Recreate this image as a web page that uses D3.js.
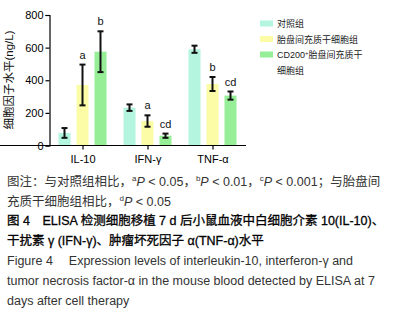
<!DOCTYPE html>
<html>
<head>
<meta charset="utf-8">
<script src="https://cdn.jsdelivr.net/npm/d3@7"></script>
<style>
body { margin: 0; background: #fff; }
svg { display: block; font-family: "Liberation Sans", Arial, "Noto Sans CJK SC", sans-serif; }
.axis path, .axis line { stroke: #000; stroke-width: 1.2px; }
.axis text { font-size: 11px; fill: #000; }
</style>
</head>
<body>
<div id="chart"></div>
<script>
const categories = ["IL-10", "IFN-γ", "TNF-α"]
const groups = ["对照组", "胎盘间充质干细胞组", "CD200⁺胎盘间充质干细胞组"]
const means = [
    [77, 232, 590],
    [371, 150, 377],
    [575, 60, 306]
]
const errors = [
    [30, 20, 22],
    [125, 35, 43],
    [125, 13, 25]
]
const marks = [
    ["", "", ""],
    ["a", "a", "b"],
    ["b", "cd", "cd"]
]
const yTicks = [0, 200, 400, 600, 800]
const colors = ["#b3f5de", "#fcfca6", "#96ef96"]

const width = 403, height = 311
const svg = d3.select("#chart").append("svg")
    .attr("width", width)
    .attr("height", height)

const yScale = d3.scaleLinear().domain([0, 800]).range([145.5, 15])
const xScale = d3.scaleBand().domain(categories).range([50.5, 245.5]).paddingInner(0).paddingOuter(0)
const xInner = d3.scaleBand().domain(d3.range(groups.length)).range([8, 56]).paddingInner(0.333)

svg.append("g")
    .attr("class", "axis")
    .attr("transform", "translate(49.5,0)")
    .call(d3.axisLeft(yScale).tickValues(yTicks).tickSize(4).tickPadding(2))

groups.forEach((g, gi) => {
    categories.forEach((c, ci) => {
        const x0 = xScale(c) + xInner(gi)
        const bw = xInner.bandwidth()
        const v = means[gi][ci], e = errors[gi][ci]
        svg.append("rect")
            .attr("x", x0)
            .attr("y", yScale(v))
            .attr("width", bw)
            .attr("height", yScale(0) - yScale(v))
            .style("fill", colors[gi])
        const cx = x0 + bw / 2
        const eg = svg.append("g").attr("stroke", "#111").attr("stroke-width", 2)
        eg.append("line").attr("x1", cx).attr("x2", cx).attr("y1", yScale(v + e)).attr("y2", yScale(v - e))
        eg.append("line").attr("x1", cx - 3).attr("x2", cx + 3).attr("y1", yScale(v + e)).attr("y2", yScale(v + e))
        eg.append("line").attr("x1", cx - 3).attr("x2", cx + 3).attr("y1", yScale(v - e)).attr("y2", yScale(v - e))
        if (marks[gi][ci]) {
            svg.append("text")
                .attr("x", cx)
                .attr("y", yScale(v + e) - 6)
                .attr("text-anchor", "middle")
                .style("font-size", "11px")
                .style("fill", "#111")
                .text(marks[gi][ci])
        }
    })
})

const xAxis = svg.append("g")
    .attr("class", "axis")
    .attr("transform", "translate(0,145.5)")
    .call(d3.axisBottom(xScale).tickSize(4).tickPadding(6).tickSizeOuter(0))
xAxis.select(".domain").attr("d", "M-0.5,0H246")

svg.append("text")
    .attr("transform", "translate(13,80) rotate(-90)")
    .attr("text-anchor", "middle")
    .style("font-size", "11.5px")
    .style("fill", "#111")
    .text("细胞因子水平(ng/L)")

// legend
const legendRows = [["对照组"], ["胎盘间充质干细胞组"], ["CD200", "细胞组"]]
const legend = svg.append("g").attr("transform", "translate(260,0)")
legendRows.forEach((r, i) => {
    const y = 23.5 + i * 15.5
    legend.append("rect")
        .attr("x", 0).attr("y", y - 3)
        .attr("width", 13).attr("height", 6)
        .style("fill", colors[i])
    const t = legend.append("text")
        .attr("x", 17).attr("y", y + 3.5)
        .style("font-size", "9px")
        .style("fill", "#222")
    if (i < 2) {
        t.text(r[0])
    } else {
        t.append("tspan").text("CD200")
        t.append("tspan").attr("dy", -3).style("font-size", "6px").text("+")
        t.append("tspan").attr("dy", 3).text("胎盘间充质干")
        legend.append("text")
            .attr("x", 17).attr("y", y + 3.5 + 16)
            .style("font-size", "9px")
            .style("fill", "#222")
            .text(r[1])
    }
})

// captions
const cap = svg.append("g").style("font-size", "12.5px").style("fill", "#333")
function supLine(y, parts, bold) {
    const t = cap.append("text").attr("x", 7).attr("y", y)
    if (bold) t.style("fill", "#000").style("stroke", "#000").style("stroke-width", 0.3)
    parts.forEach(p => {
        const s = t.append("tspan").text(p.t)
        if (p.sup) s.attr("dy", -5).style("font-size", "8px")
        if (p.down) s.attr("dy", 5)
        if (p.i) s.style("font-style", "italic")
    })
    return t
}
supLine(186, [
    { t: "图注：与对照组相比，" }, { t: "a", sup: 1 }, { t: "P", i: 1, down: 1 }, { t: " < 0.05，" },
    { t: "b", sup: 1 }, { t: "P", i: 1, down: 1 }, { t: " < 0.01，" },
    { t: "c", sup: 1 }, { t: "P", i: 1, down: 1 }, { t: " < 0.001；与胎盘间" }
])
supLine(206, [{ t: "充质干细胞组相比，" }, { t: "d", sup: 1 }, { t: "P", i: 1, down: 1 }, { t: " < 0.05" }])
supLine(225, [{ t: "图 4　ELISA 检测细胞移植 7 d 后小鼠血液中白细胞介素 10(IL-10)、" }], true)
supLine(245, [{ t: "干扰素 γ (IFN-γ)、肿瘤坏死因子 α(TNF-α)水平" }], true)
supLine(265, [{ t: "Figure 4　 Expression levels of interleukin-10, interferon-γ and" }])
supLine(285, [{ t: "tumor necrosis factor-α in the mouse blood detected by ELISA at 7" }])
supLine(305, [{ t: "days after cell therapy" }])
</script>
</body>
</html>
